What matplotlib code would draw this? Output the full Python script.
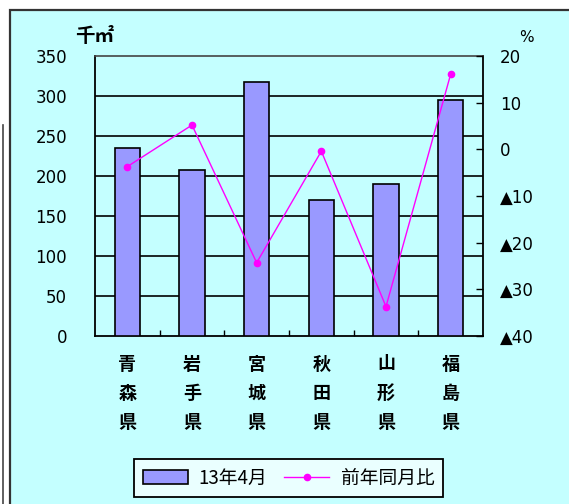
import matplotlib
matplotlib.use("Agg")
import matplotlib.pyplot as plt
from matplotlib.patches import Rectangle, Patch
from matplotlib.lines import Line2D
import numpy as np

categories = ["青森県", "岩手県", "宮城県", "秋田県", "山形県", "福島県"]
area_values = [235, 207, 318, 170, 190, 295]          # 千㎡ (13年4月)
yoy_values = [-3.7, 5.2, -24.3, -0.4, -33.7, 16.1]    # 前年同月比 %
left_ticks = [0, 50, 100, 150, 200, 250, 300, 350]
right_ticks = [20, 10, 0, -10, -20, -30, -40]
right_tick_labels = ["20", "10", "0", "▲10", "▲20", "▲30", "▲40"]
bar_label = "13年4月"
line_label = "前年同月比"

CJK = ["Noto Sans CJK JP", "DejaVu Sans"]
NUM = ["DejaVu Sans", "Noto Sans CJK JP"]
BG = "#c4ffff"

W, H = 569, 504
fig = plt.figure(figsize=(W / 100, H / 100), dpi=100)
fig.patch.set_facecolor("white")

# outer chart frame
frame = Rectangle((10 / W, -0.02), 1.1, (H - 10) / H + 0.02,
                  transform=fig.transFigure, facecolor=BG,
                  edgecolor="#333333", linewidth=1.6, zorder=-10)
fig.add_artist(frame)
# remnant line at far left
fig.add_artist(Line2D([2.5 / W, 2.5 / W], [0, 1 - 125 / H], transform=fig.transFigure,
                      color="#444444", linewidth=1.2, zorder=-5))

ax = fig.add_axes([95 / W, 1 - 336 / H, (483 - 95) / W, (336 - 56) / H])
ax.set_zorder(1)
ax.set_facecolor(BG)
x = np.arange(len(categories))
ax.bar(x, area_values, width=0.39, color="#9999ff", edgecolor="black",
       linewidth=1.2, zorder=3)
ax.set_xlim(-0.5, len(categories) - 0.5)
ax.set_ylim(0, 350)
ax.set_yticks(left_ticks)
ax.set_yticklabels([str(v) for v in left_ticks], fontsize=12, family=NUM)
ax.tick_params(axis="y", length=0, pad=20)
for v in left_ticks[1:-1]:
    ax.axhline(v, color="black", linewidth=1.2, zorder=1)
ax.set_xticks(np.arange(0.5, len(categories) - 0.5, 1.0))
ax.set_xticklabels([])
ax.tick_params(axis="x", direction="in", length=4, width=1, color="black")
for s in ["left", "bottom", "right"]:
    ax.spines[s].set_color("black")
    ax.spines[s].set_linewidth(1.3)
ax.spines["top"].set_color("#444444")
ax.spines["top"].set_linewidth(1.2)

# vertical category labels
for i, name in enumerate(categories):
    for j, ch in enumerate(name):
        ax.text(i, -0.1 - j * 0.105, ch, transform=ax.get_xaxis_transform(),
                ha="center", va="center", fontsize=13, family=CJK,
                fontweight="bold")

ax2 = ax.twinx()
ax2.set_ylim(-40, 20)
ax2.plot(x, yoy_values, color="#ff00ff", linewidth=1.0, marker="o",
         markersize=4.5, zorder=5)
ax2.set_yticks(right_ticks)
ax2.set_yticklabels(right_tick_labels, fontsize=12, family=NUM)
ax2.tick_params(axis="y", direction="in", length=5, width=1, pad=12, color="black")
for s in ax2.spines.values():
    s.set_visible(False)

fig.text(95 / W, 1 - 36 / H, "千㎡", ha="center", va="center", fontsize=14,
         family=CJK, fontweight="bold")
fig.text(526 / W, 1 - 37 / H, "%", ha="center", va="center", fontsize=11,
         family=NUM)

handles = [Patch(facecolor="#9999ff", edgecolor="black", linewidth=1.2),
           Line2D([], [], color="#ff00ff", linewidth=1.0, marker="o", markersize=4.5)]
leg = fig.legend(handles, [bar_label, line_label], loc="center",
                 bbox_to_anchor=(288.5 / W, 1 - 478 / H), ncol=2, frameon=True,
                 fancybox=False, edgecolor="black", facecolor="#eaffff",
                 prop={"family": CJK, "size": 13.5}, handlelength=2.4,
                 handleheight=0.7, columnspacing=0.9, handletextpad=0.6,
                 borderpad=0.45, borderaxespad=0)
leg.get_frame().set_linewidth(1.3)
leg.get_frame().set_alpha(1)

fig.savefig("out.png", dpi=100)
